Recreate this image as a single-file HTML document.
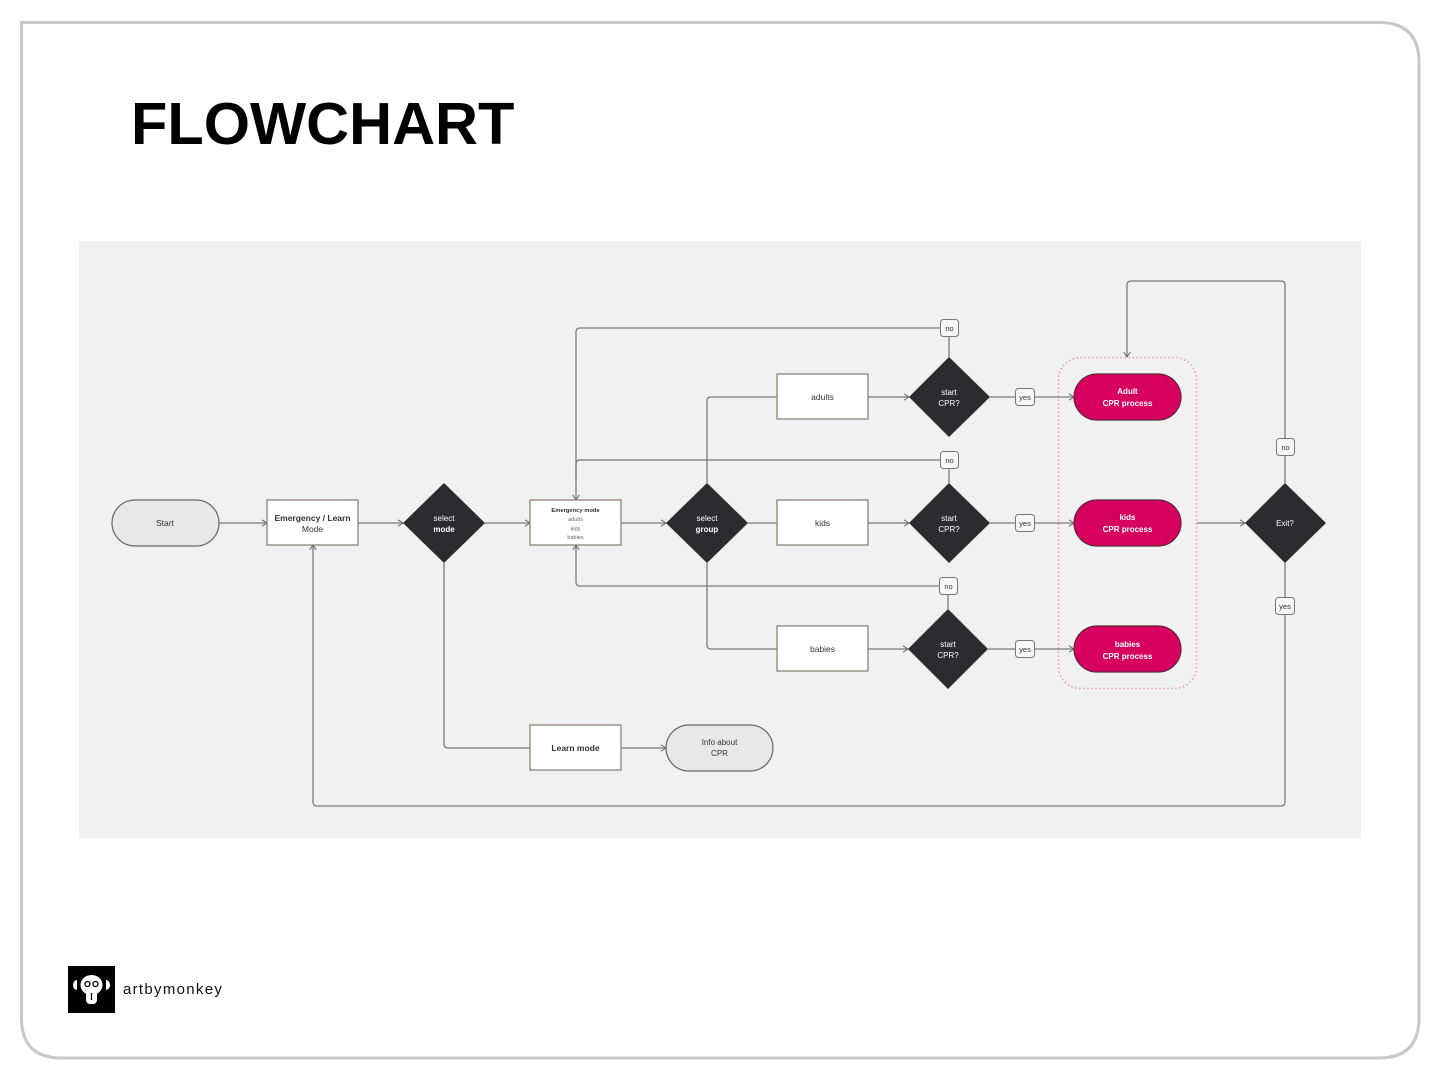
<!DOCTYPE html>
<html><head><meta charset="utf-8"><style>
html,body{margin:0;padding:0;background:#fff;}
body{width:1440px;height:1080px;position:relative;overflow:hidden;font-family:"Liberation Sans",sans-serif;}
</style></head><body>
<svg width="1440" height="1080" viewBox="0 0 1440 1080" xmlns="http://www.w3.org/2000/svg" style="position:absolute;left:0;top:0">
<defs>
<marker id="ar" viewBox="0 0 6 8" refX="5.5" refY="4" markerWidth="6" markerHeight="8" markerUnits="userSpaceOnUse" orient="auto">
<path d="M0.5,0.8 L5.5,4 L0.5,7.2" fill="none" stroke="#666" stroke-width="1"/>
</marker>
</defs>
<!-- card -->
<path d="M21.5,22.5 H1379 Q1419,22.5 1419,62.5 V1018 Q1419,1058 1379,1058 H61.5 Q21.5,1058 21.5,1018 Z" fill="#fff" stroke="#c8c8c8" stroke-width="3"/>
<text x="131" y="144" font-family="Liberation Sans, sans-serif" font-weight="bold" font-size="59.5" fill="#000">FLOWCHART</text>
<!-- panel -->
<rect x="79" y="241" width="1282" height="597" fill="#f1f1f1"/>
<!-- dotted group -->
<rect x="1058.5" y="357.5" width="138" height="331" rx="22" fill="none" stroke="#f09abd" stroke-width="1.6" stroke-dasharray="1.5 2.5"/>
<!-- connectors -->
<g fill="none" stroke="#7a7a7a" stroke-width="1.3">
<path d="M219,523 H267" marker-end="url(#ar)"/>
<path d="M358,523 H403" marker-end="url(#ar)"/>
<path d="M485,523 H530" marker-end="url(#ar)"/>
<path d="M621,523 H666" marker-end="url(#ar)"/>
<path d="M707,483 V401 Q707,397 711,397 H777"/>
<path d="M748,523 H777"/>
<path d="M707,563 V645 Q707,649 711,649 H777"/>
<path d="M868,397 H909" marker-end="url(#ar)"/>
<path d="M868,523 H909" marker-end="url(#ar)"/>
<path d="M868,649 H908" marker-end="url(#ar)"/>
<path d="M990,397 H1074" marker-end="url(#ar)"/>
<path d="M990,523 H1074" marker-end="url(#ar)"/>
<path d="M988,649 H1074" marker-end="url(#ar)"/>
<path d="M949,357 V328 H580 Q576,328 576,332 V500" marker-end="url(#ar)"/>
<path d="M949,483 V460 H580 Q576,460 576,464 V480"/>
<path d="M948,609 V586 H580 Q576,586 576,582 V545" marker-end="url(#ar)"/>
<path d="M1197,523 H1245" marker-end="url(#ar)"/>
<path d="M1285,483 V285 Q1285,281 1281,281 H1131 Q1127,281 1127,285 V357" marker-end="url(#ar)"/>
<path d="M1285,563 V802 Q1285,806 1281,806 H317 Q313,806 313,802 V545" marker-end="url(#ar)"/>
<path d="M444,563 V744 Q444,748 448,748 H530"/>
<path d="M621,748 H666" marker-end="url(#ar)"/>
</g>
<!-- nodes -->
<g font-family="Liberation Sans, sans-serif" text-anchor="middle">
<rect x="112" y="500" width="107" height="46" rx="23" fill="#e8e8e8" stroke="#666" stroke-width="1.2"/>
<text x="165" y="526" font-size="8.5" fill="#333">Start</text>

<rect x="267" y="500" width="91" height="45" fill="#fff" stroke="#8a8578" stroke-width="1.3"/>
<text x="312.5" y="521" font-size="8.5" font-weight="bold" fill="#333">Emergency / Learn</text>
<text x="312.5" y="532" font-size="8.5" fill="#333">Mode</text>

<polygon points="444,483 485,523 444,563 403,523" fill="#2b2b30"/>
<text x="444" y="521" font-size="8" fill="#fff">select</text>
<text x="444" y="532" font-size="8" font-weight="bold" fill="#fff">mode</text>

<rect x="530" y="500" width="91" height="45" fill="#fff" stroke="#8a8578" stroke-width="1.3"/>
<text x="575.5" y="512" font-size="5.8" font-weight="bold" fill="#333">Emergency mode</text>
<text x="575.5" y="521" font-size="5.5" fill="#666">adults</text>
<text x="575.5" y="530.5" font-size="5.5" fill="#666">kids</text>
<text x="575.5" y="539" font-size="5.5" fill="#666">babies</text>

<polygon points="707,483 748,523 707,563 666,523" fill="#2b2b30"/>
<text x="707" y="521" font-size="8" fill="#fff">select</text>
<text x="707" y="532" font-size="8" font-weight="bold" fill="#fff">group</text>

<rect x="777" y="374" width="91" height="45" fill="#fff" stroke="#8a8578" stroke-width="1.3"/>
<text x="822.5" y="400" font-size="8.5" fill="#333">adults</text>
<rect x="777" y="500" width="91" height="45" fill="#fff" stroke="#8a8578" stroke-width="1.3"/>
<text x="822.5" y="526" font-size="8.5" fill="#333">kids</text>
<rect x="777" y="626" width="91" height="45" fill="#fff" stroke="#8a8578" stroke-width="1.3"/>
<text x="822.5" y="652" font-size="8.5" fill="#333">babies</text>

<polygon points="949,357 990,397 949,437 909,397" fill="#2b2b30"/>
<text x="949" y="395" font-size="8" fill="#fff">start</text>
<text x="949" y="406" font-size="8" fill="#fff">CPR?</text>
<polygon points="949,483 990,523 949,563 909,523" fill="#2b2b30"/>
<text x="949" y="521" font-size="8" fill="#fff">start</text>
<text x="949" y="532" font-size="8" fill="#fff">CPR?</text>
<polygon points="948,609 988,649 948,689 908,649" fill="#2b2b30"/>
<text x="948" y="647" font-size="8" fill="#fff">start</text>
<text x="948" y="658" font-size="8" fill="#fff">CPR?</text>

<rect x="1074" y="374" width="107" height="46" rx="23" fill="#d8005f" stroke="#5a2a3a" stroke-width="1.2"/>
<text x="1127.5" y="394" font-size="8" font-weight="bold" fill="#fff">Adult</text>
<text x="1127.5" y="406" font-size="8" font-weight="bold" fill="#fff">CPR process</text>
<rect x="1074" y="500" width="107" height="46" rx="23" fill="#d8005f" stroke="#5a2a3a" stroke-width="1.2"/>
<text x="1127.5" y="520" font-size="8" font-weight="bold" fill="#fff">kids</text>
<text x="1127.5" y="532" font-size="8" font-weight="bold" fill="#fff">CPR process</text>
<rect x="1074" y="626" width="107" height="46" rx="23" fill="#d8005f" stroke="#5a2a3a" stroke-width="1.2"/>
<text x="1127.5" y="647" font-size="8" font-weight="bold" fill="#fff">babies</text>
<text x="1127.5" y="659" font-size="8" font-weight="bold" fill="#fff">CPR process</text>

<polygon points="1285,483 1326,523 1285,563 1245,523" fill="#2b2b30"/>
<text x="1285" y="526" font-size="8" fill="#fff">Exit?</text>

<rect x="530" y="725" width="91" height="45" fill="#fff" stroke="#8a8578" stroke-width="1.3"/>
<text x="575.5" y="751" font-size="8.5" font-weight="bold" fill="#333">Learn mode</text>

<rect x="666" y="725" width="107" height="46" rx="23" fill="#e8e8e8" stroke="#666" stroke-width="1.2"/>
<text x="719.5" y="745" font-size="8" fill="#333">Info about</text>
<text x="719.5" y="756" font-size="8" fill="#333">CPR</text>

<!-- labels -->
<g font-size="7.5" fill="#333">
<rect x="940.5" y="319.5" width="18" height="17" rx="3" fill="#f7f7f7" stroke="#777"/>
<text x="949.5" y="331">no</text>
<rect x="940.5" y="451.5" width="18" height="17" rx="3" fill="#f7f7f7" stroke="#777"/>
<text x="949.5" y="463">no</text>
<rect x="939.5" y="577.5" width="18" height="17" rx="3" fill="#f7f7f7" stroke="#777"/>
<text x="948.5" y="589">no</text>
<rect x="1276.5" y="438.5" width="18" height="17" rx="3" fill="#f7f7f7" stroke="#777"/>
<text x="1285.5" y="450">no</text>
<rect x="1015.5" y="388.5" width="19" height="17" rx="3" fill="#f7f7f7" stroke="#777"/>
<text x="1025" y="400">yes</text>
<rect x="1015.5" y="514.5" width="19" height="17" rx="3" fill="#f7f7f7" stroke="#777"/>
<text x="1025" y="526">yes</text>
<rect x="1015.5" y="640.5" width="19" height="17" rx="3" fill="#f7f7f7" stroke="#777"/>
<text x="1025" y="652">yes</text>
<rect x="1275.5" y="597.5" width="19" height="17" rx="3" fill="#f7f7f7" stroke="#777"/>
<text x="1285" y="609">yes</text>
</g>
</g>
<!-- logo -->
<rect x="68" y="966" width="47" height="47" fill="#000"/>
<g fill="#fff" stroke="none">
<ellipse cx="91.5" cy="985" rx="11" ry="10"/>
<rect x="86" y="988" width="11" height="16" rx="4"/>
<path d="M77,980 a4,5 0 0 0 0,10 z"/>
<path d="M106,980 a4,5 0 0 1 0,10 z"/>
</g>
<g fill="none" stroke="#000" stroke-width="1.3">
<circle cx="87.5" cy="984" r="2.5"/>
<circle cx="95.5" cy="984" r="2.5"/>
<path d="M91.5,993 V1000"/>
</g>
<text x="123" y="994" font-family="Liberation Sans, sans-serif" font-size="15" fill="#111" letter-spacing="1.3">artbymonkey</text>
</svg>
</body></html>
